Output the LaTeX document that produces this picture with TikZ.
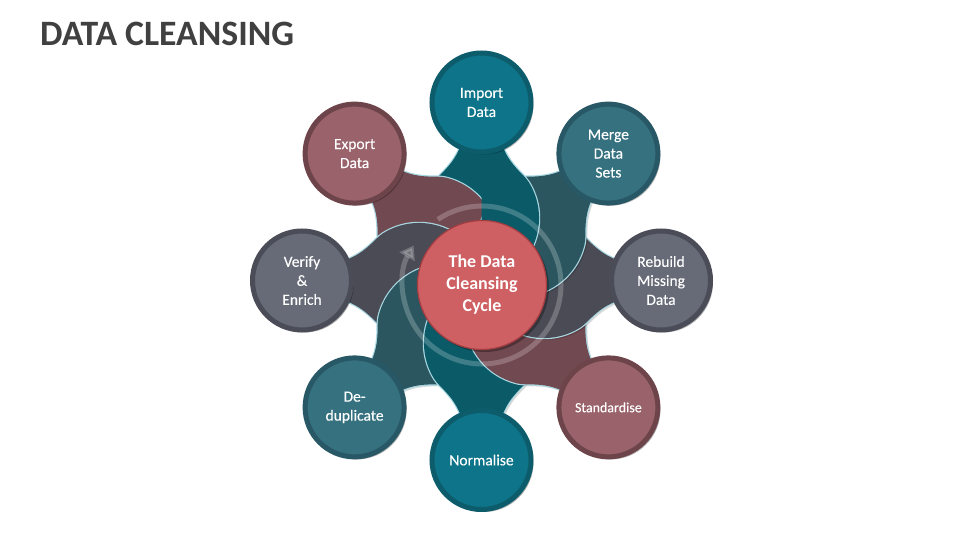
\documentclass[tikz,border=0pt]{standalone}
\usepackage{fontspec}
\setmainfont{Carlito}
\usetikzlibrary{shadows,arrows.meta}
\definecolor{titlec}{HTML}{404040}
\definecolor{edgec}{HTML}{A9D8E2}
\definecolor{tealF}{HTML}{0E7489}\definecolor{tealB}{HTML}{0C5C6B}\definecolor{tealP}{HTML}{0A5A67}
\definecolor{blueF}{HTML}{36717F}\definecolor{blueB}{HTML}{285865}\definecolor{blueP}{HTML}{2B5660}
\definecolor{grayF}{HTML}{676A77}\definecolor{grayB}{HTML}{4A4C57}\definecolor{grayP}{HTML}{4A4B55}
\definecolor{roseF}{HTML}{9A626A}\definecolor{roseB}{HTML}{6E444B}\definecolor{roseP}{HTML}{714950}
\definecolor{hubF}{HTML}{CE5F62}\definecolor{hubB}{HTML}{A23E42}
\tikzset{
  pics/petal/.style={code={
    \path[draw=edgec,line width=2.4,
      drop shadow={shadow xshift=2pt, shadow yshift=-2pt, opacity=.15, fill=black}]
      (16,152) .. controls (22,118) and (40.8,108.7) .. (47.2,98.5)
      arc[start angle=32, end angle=-100, radius=68]
      -- (-50,60) -- (-47.2,98.5) .. controls (-40.8,108.7) and (-22,118) .. (-16,152) -- cycle;
    \path[fill=#1]
      (16,152) .. controls (22,118) and (40.8,108.7) .. (47.2,98.5)
      arc[start angle=32, end angle=-100, radius=68]
      -- (-50,60) -- (-47.2,98.5) .. controls (-40.8,108.7) and (-22,118) .. (-16,152) -- cycle;
  }},
  pics/petalflat/.style={code={
    \path[draw=edgec,line width=2.4]
      (16,152) .. controls (22,118) and (40.8,108.7) .. (47.2,98.5)
      arc[start angle=32, end angle=-100, radius=68]
      -- (-50,60) -- (-47.2,98.5) .. controls (-40.8,108.7) and (-22,118) .. (-16,152) -- cycle;
    \path[fill=#1]
      (16,152) .. controls (22,118) and (40.8,108.7) .. (47.2,98.5)
      arc[start angle=32, end angle=-100, radius=68]
      -- (-50,60) -- (-47.2,98.5) .. controls (-40.8,108.7) and (-22,118) .. (-16,152) -- cycle;
  }},
  item/.style={circle, minimum size=99pt, line width=5pt, text=white, align=center,
    font=\addfontfeatures{FakeBold=0.25}\fontsize{15.5}{19}\selectfont,
    drop shadow={shadow xshift=2.5pt, shadow yshift=-2.5pt, opacity=.3, fill=black}},
  tealI/.style={item, fill=tealF, draw=tealB},
  blueI/.style={item, fill=blueF, draw=blueB},
  grayI/.style={item, fill=grayF, draw=grayB},
  roseI/.style={item, fill=roseF, draw=roseB}
}
\begin{document}
\begin{tikzpicture}[x=1pt,y=1pt]
\useasboundingbox (-481.5,-259.5) rectangle (478.5,280.5);
\fill[white] (-481.5,-259.5) rectangle (478.5,280.5);
% title
\node[anchor=base west, inner sep=0, text=titlec, font=\bfseries\fontsize{35.7}{40}\selectfont] (title) at (-441.5,234.5) {DATA CLEANSING};
% petals (each covered by its counter-clockwise neighbour)
\pic[rotate=0]   {petal=tealP};
\pic[rotate=45]  {petal=roseP};
\pic[rotate=90]  {petal=grayP};
\pic[rotate=135] {petal=blueP};
\pic[rotate=180] {petal=tealP};
\pic[rotate=225] {petal=roseP};
\pic[rotate=270] {petal=grayP};
\pic[rotate=315] {petal=blueP};
\begin{scope}
  \clip (0,-10) rectangle (200,200);
  \pic[rotate=0] {petalflat=tealP};
\end{scope}
% ring arrow
\draw[white, opacity=.22, line width=5, -{Triangle[width=17pt,length=13pt]}]
  (0.5,-4.5) ++(124:79) arc[start angle=124, end angle=-210, radius=79];
% outer circles
\node[tealI] (import) at (0,178) {Import\\Data};
\node[roseI] (export) at (-126.9,126.9) {Export\\Data};
\node[grayI] (verify) at (-179.5,0) {Verify\\\&\\Enrich};
\node[blueI] (dedup) at (-126.9,-126.9) {De-\\duplicate};
\node[tealI] (normalise) at (0,-179.5) {Normalise};
\node[roseI, font=\addfontfeatures{FakeBold=0.25}\fontsize{14}{17}\selectfont] (standardise) at (126.9,-126.9) {Standardise};
\node[grayI] (rebuild) at (179.5,0) {Rebuild\\Missing\\Data};
\node[blueI] (merge) at (126.9,126.9) {Merge\\Data\\Sets};
% hub
\node[circle, minimum size=129pt, fill=hubF, draw=hubB, line width=1.2pt, text=white, align=center,
  font=\bfseries\fontsize{18}{22}\selectfont,
  drop shadow={shadow xshift=2.5pt, shadow yshift=-2.5pt, opacity=.3, fill=black}]
  (hub) at (0.5,-4.5) {The Data\\Cleansing\\Cycle};
\end{tikzpicture}
\end{document}
